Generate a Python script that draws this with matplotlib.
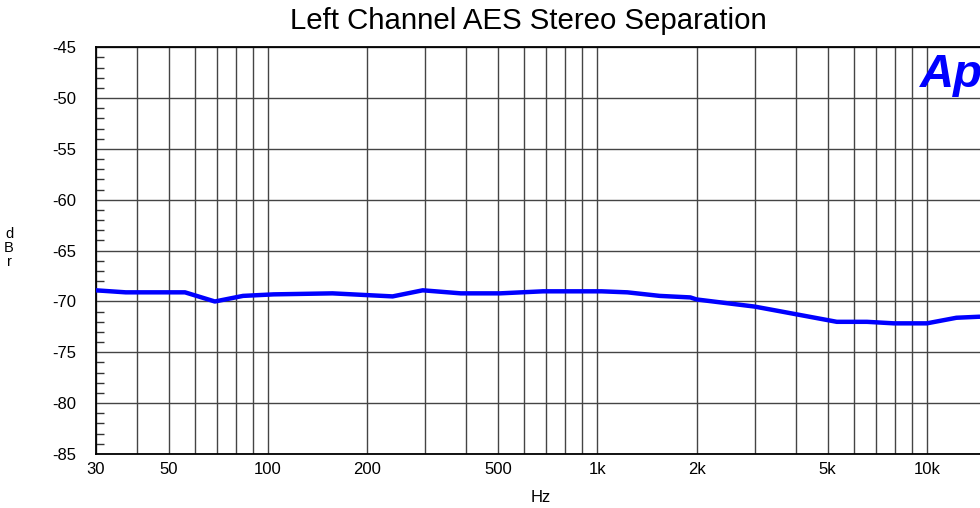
import numpy as np
import matplotlib.pyplot as plt

freq = [30, 37, 56, 69, 84, 104, 157, 239, 295, 385, 506, 684, 1030, 1233,
        1546, 1915, 2000, 3000, 3500, 5330, 6580, 7950, 10000, 12300, 14400, 20000]
sep = [-68.9, -69.1, -69.1, -70.0, -69.45, -69.3, -69.2, -69.5, -68.9, -69.2,
       -69.2, -69.0, -69.0, -69.1, -69.45, -69.6, -69.8, -70.5, -70.9, -72.0,
       -72.0, -72.15, -72.15, -71.6, -71.5, -71.5]

xlabels = {30: '30', 50: '50', 100: '100', 200: '200', 500: '500',
           1000: '1k', 2000: '2k', 5000: '5k', 10000: '10k'}

plt.rcParams['font.family'] = ['Liberation Sans', 'DejaVu Sans']

fig = plt.figure(figsize=(9.8, 5.08), dpi=100)
ax = fig.add_axes([95.7 / 980, 54 / 508, (1026 - 95.7) / 980, (454 - 47.3) / 508])

ax.plot(freq, sep, color='#0000ff', lw=3.2, solid_joinstyle='round', zorder=3)

ax.set_xscale('log')
ax.set_xlim(30, 20000)
ax.set_ylim(-85, -45)

grid_x = [m * 10 ** e for e in range(1, 5) for m in range(1, 10)]
grid_x = [g for g in grid_x if 30 <= g <= 20000] + [20000]
ax.set_xticks(grid_x)
ax.set_xticklabels([xlabels.get(g, '') for g in grid_x])
ax.xaxis.set_minor_locator(plt.NullLocator())
ax.set_yticks(np.arange(-85, -44, 5))
ax.set_yticklabels([str(v) for v in range(-85, -44, 5)])
ax.set_yticks(np.arange(-85, -44, 1), minor=True)

ax.grid(True, which='major', color='#444444', lw=1.0)
ax.tick_params(axis='x', which='major', length=0, pad=6, labelsize=12)
ax.tick_params(axis='y', which='major', length=0, pad=14, labelsize=12)
ax.tick_params(axis='y', which='minor', direction='in', length=6, width=1.0,
               color='#333333', right=False)
for s in ax.spines.values():
    s.set_color('black')
    s.set_linewidth(1.3)

fig.text(541 / 980, 1 - 497 / 508, 'Hz', fontsize=12, ha='center', va='center')
fig.text(9 / 980, 1 - 248 / 508, 'd\nB\nr', fontsize=10.5, ha='center', va='center',
         linespacing=1.0)
fig.text(528 / 980, 1 - 21 / 508, 'Left Channel AES Stereo Separation',
         fontsize=21.2, ha='center', va='center')
fig.text(920 / 980, 1 - 87 / 508, 'Ap', fontsize=34, fontweight='bold',
         fontstyle='italic', color='#0000ff', ha='left', va='baseline')

fig.savefig('out.png', dpi=100)
